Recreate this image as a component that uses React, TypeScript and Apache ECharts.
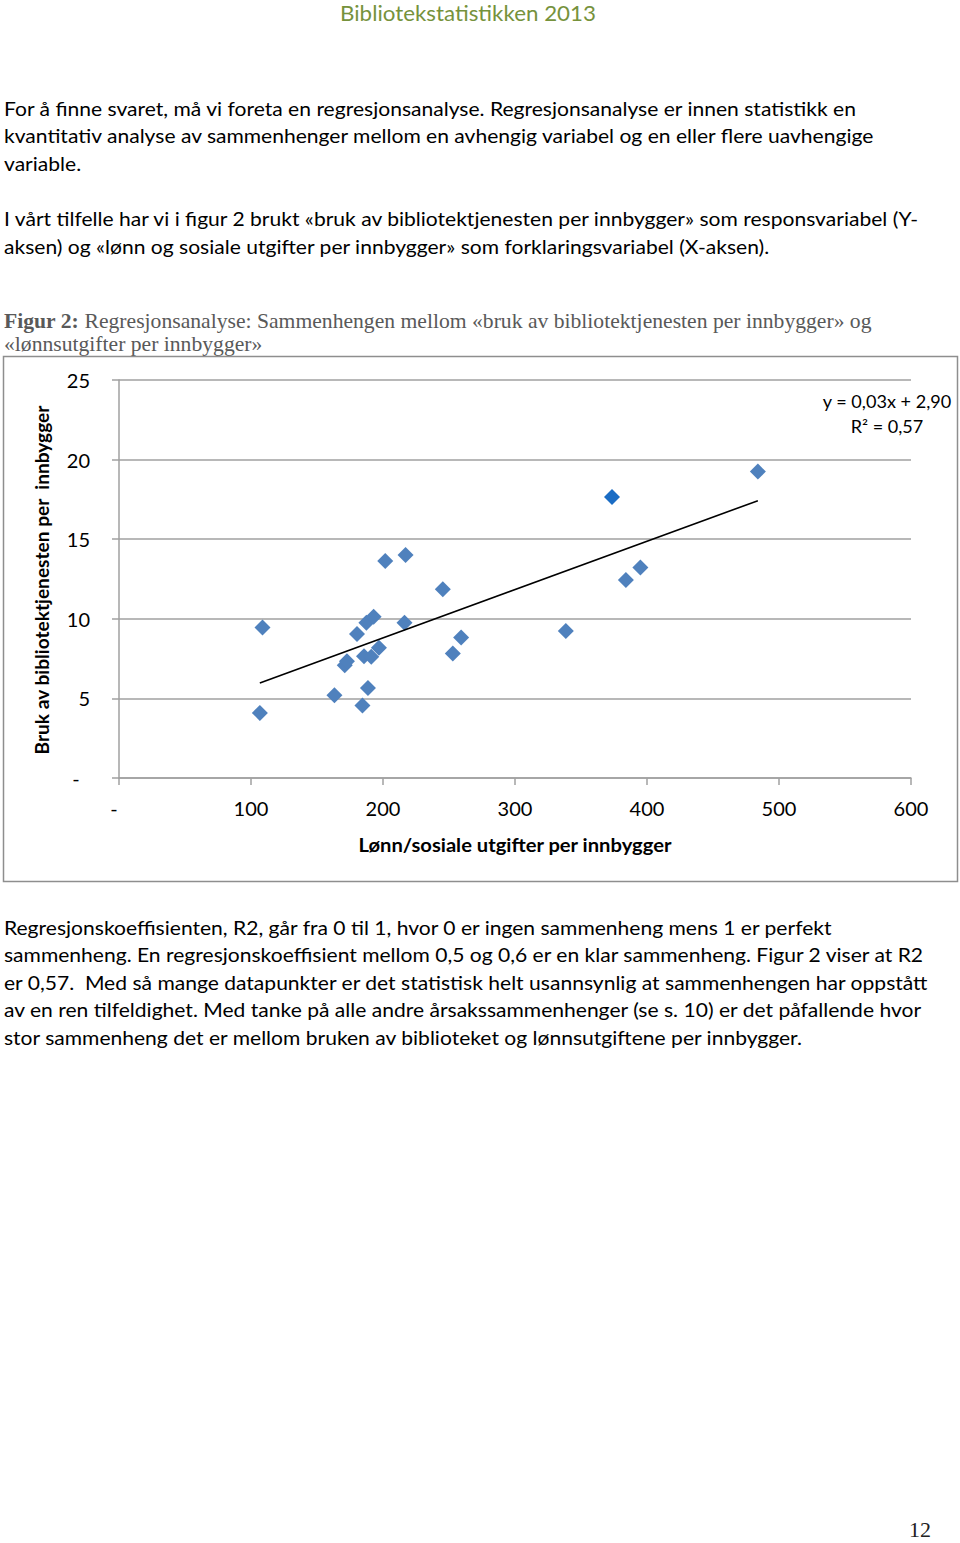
import React, { useEffect, useRef } from "react";
import * as echarts from "echarts";

// ---- data ----
const xValues = [108.7, 106.7, 163.2, 171.0, 172.7, 180.3, 184.4, 188.6, 185.6, 191.1, 187.4, 192.9, 196.9, 201.7, 217.1, 216.3, 245.3, 252.9, 259.2, 338.5, 373.5, 384.0, 395.0, 484.0];
const yValues = [9.46, 4.09, 5.2, 7.09, 7.34, 9.04, 4.55, 5.66, 7.65, 7.61, 9.75, 10.13, 8.18, 13.63, 14.0, 9.75, 11.85, 7.82, 8.83, 9.23, 17.65, 12.43, 13.23, 19.25];
const highlightIndex = 20;
const trendX = [106.7, 484.0];
const trendY = [5.97, 17.42];
const xTickLabels = ["-  ", "100", "200", "300", "400", "500", "600"];
const yTickLabels = ["-  ", "5", "10", "15", "20", "25"];
const xAxisTitle = "Lønn/sosiale utgifter per innbygger";
const yAxisTitle = "Bruk av bibliotektjenesten per  innbygger";
const equationLines = ["y = 0,03x + 2,90", "R² = 0,57"];

const headerText = "Bibliotekstatistikken 2013";
const para1 = [
  "For å finne svaret, må vi foreta en regresjonsanalyse. Regresjonsanalyse er innen statistikk en",
  "kvantitativ analyse av sammenhenger mellom en avhengig variabel og en eller flere uavhengige",
  "variable.",
];
const para2 = [
  "I vårt tilfelle har vi i figur 2 brukt «bruk av bibliotektjenesten per innbygger» som responsvariabel (Y-",
  "aksen) og «lønn og sosiale utgifter per innbygger» som forklaringsvariabel (X-aksen).",
];
const captionBold = "Figur 2:";
const captionLines = [
  " Regresjonsanalyse: Sammenhengen mellom «bruk av bibliotektjenesten per innbygger» og",
  "«lønnsutgifter per innbygger»",
];
const para3 = [
  "Regresjonskoeffisienten, R2, går fra 0 til 1, hvor 0 er ingen sammenheng mens 1 er perfekt",
  "sammenheng. En regresjonskoeffisient mellom 0,5 og 0,6 er en klar sammenheng. Figur 2 viser at R2",
  "er 0,57.  Med så mange datapunkter er det statistisk helt usannsynlig at sammenhengen har oppstått",
  "av en ren tilfeldighet. Med tanke på alle andre årsakssammenhenger (se s. 10) er det påfallende hvor",
  "stor sammenheng det er mellom bruken av biblioteket og lønnsutgiftene per innbygger.",
];
const pageNumber = "12";

const SANS = "Lato";
const SERIF = "Liberation Serif";

function measure(text: string, font: string): number {
  const c = document.createElement("canvas");
  const ctx = c.getContext("2d")!;
  ctx.font = font;
  return ctx.measureText(text).width;
}

export default function App() {
  const ref = useRef<HTMLDivElement>(null);

  useEffect(() => {
    if (!ref.current) return;
    const chart = echarts.init(ref.current, null, { renderer: "svg" });

    const bodySize = 19;
    const bodyScale = 854 / measure(para1[0], `${bodySize}px ${SANS}`);
    const headerSize = 22;
    const headerScale = 256 / measure(headerText, `${headerSize}px ${SANS}`);
    const capSize = 20;
    const capW =
      measure(captionBold, `bold ${capSize}px ${SERIF}`) +
      measure(captionLines[0], `${capSize}px ${SERIF}`);
    const capScale = 868 / capW;
    const titleSize = 18;
    const xTitleScale = 314 / measure(xAxisTitle, `bold ${titleSize}px ${SANS}`);
    const yTitleScale = 350 / measure(yAxisTitle, `bold ${titleSize}px ${SANS}`);
    const eqSize = 17;
    const eqScale = 129 / measure(equationLines[0], `${eqSize}px ${SANS}`);

    const bodyLine = (t: string, y: number) => ({
      type: "text",
      x: 4,
      y,
      scaleX: bodyScale,
      style: {
        text: t,
        fill: "#000",
        font: `${bodySize}px ${SANS}`,
        textAlign: "left",
        textVerticalAlign: "middle",
      },
    });

    const graphics: any[] = [];
    graphics.push({
      type: "text",
      x: 468,
      y: 13,
      scaleX: headerScale,
      style: {
        text: headerText,
        fill: "#76923C",
        font: `${headerSize}px ${SANS}`,
        textAlign: "center",
        textVerticalAlign: "middle",
      },
    });
    para1.forEach((t, i) => graphics.push(bodyLine(t, 108 + i * 27.5)));
    para2.forEach((t, i) => graphics.push(bodyLine(t, 218 + i * 28)));
    para3.forEach((t, i) => graphics.push(bodyLine(t, 927 + i * 27.5)));

    graphics.push({
      type: "text",
      x: 4,
      y: 321,
      scaleX: capScale,
      style: {
        text: `{b|${captionBold}}{r|${captionLines[0]}}`,
        rich: {
          b: { font: `bold ${capSize}px ${SERIF}`, fill: "#595959" },
          r: { font: `${capSize}px ${SERIF}`, fill: "#595959" },
        },
        textAlign: "left",
        textVerticalAlign: "middle",
      },
    });
    graphics.push({
      type: "text",
      x: 4,
      y: 344,
      scaleX: capScale,
      style: {
        text: captionLines[1],
        fill: "#595959",
        font: `${capSize}px ${SERIF}`,
        textAlign: "left",
        textVerticalAlign: "middle",
      },
    });

    // chart frame
    graphics.push({
      type: "rect",
      shape: { x: 3.5, y: 356.5, width: 954, height: 525 },
      style: { fill: "none", stroke: "#8E8E8E", lineWidth: 1.5 },
      silent: true,
    });

    // axis titles
    graphics.push({
      type: "text",
      x: 515,
      y: 845,
      scaleX: xTitleScale,
      style: {
        text: xAxisTitle,
        fill: "#000",
        font: `bold ${titleSize}px ${SANS}`,
        textAlign: "center",
        textVerticalAlign: "middle",
      },
    });
    graphics.push({
      type: "text",
      x: 42,
      y: 580,
      rotation: Math.PI / 2,
      scaleX: yTitleScale,
      style: {
        text: yAxisTitle,
        fill: "#000",
        font: `bold ${titleSize}px ${SANS}`,
        textAlign: "center",
        textVerticalAlign: "middle",
      },
    });

    // equation
    equationLines.forEach((t, i) =>
      graphics.push({
        type: "text",
        x: 887,
        y: 402 + i * 25,
        scaleX: eqScale,
        style: {
          text: t,
          fill: "#000",
          font: `${eqSize}px ${SANS}`,
          textAlign: "center",
          textVerticalAlign: "middle",
        },
      })
    );

    graphics.push({
      type: "text",
      x: 920,
      y: 1529,
      style: {
        text: pageNumber,
        fill: "#222",
        font: `22px ${SERIF}`,
        textAlign: "center",
        textVerticalAlign: "middle",
      },
    });

    const axisColor = "#A0A0A0";

    chart.setOption({
      animation: false,
      backgroundColor: "#fff",
      grid: { left: 119, right: 49, top: 380, bottom: 765, containLabel: false },
      xAxis: {
        type: "value",
        min: 0,
        max: 600,
        interval: 100,
        axisLine: { show: true, lineStyle: { color: axisColor, width: 1.5 } },
        axisTick: { show: true, length: 7, lineStyle: { color: axisColor, width: 1.5 } },
        splitLine: { show: false },
        axisLabel: {
          color: "#000",
          fontSize: 20,
          fontFamily: SANS,
          margin: 20,
          formatter: (v: number) => xTickLabels[Math.round(v / 100)] ?? String(v),
        },
      },
      yAxis: {
        type: "value",
        min: 0,
        max: 25,
        interval: 5,
        axisLine: { show: true, lineStyle: { color: axisColor, width: 1.5 } },
        axisTick: { show: true, length: 7, lineStyle: { color: axisColor, width: 1.5 } },
        splitLine: { show: true, lineStyle: { color: axisColor, width: 1.5 } },
        axisLabel: {
          color: "#000",
          fontSize: 20,
          fontFamily: SANS,
          margin: 29,
          formatter: (v: number) => yTickLabels[Math.round(v / 5)] ?? String(v),
        },
      },
      series: [
        {
          type: "line",
          data: trendX.map((x, i) => [x, trendY[i]]),
          symbol: "none",
          lineStyle: { color: "#000", width: 1.6 },
          z: 3,
        },
        {
          type: "scatter",
          symbol: "diamond",
          symbolSize: 16,
          data: xValues.map((x, i) =>
            i === highlightIndex
              ? { value: [x, yValues[i]], itemStyle: { color: "#1A6CC4" } }
              : [x, yValues[i]]
          ),
          itemStyle: { color: "#4F81BD", opacity: 1 },
          z: 2,
        },
      ],
      graphic: graphics,
    });

    return () => chart.dispose();
  }, []);

  return (
    <div
      ref={ref}
      style={{ position: "absolute", left: 0, top: 0, width: 960, height: 1543, background: "#fff" }}
    />
  );
}
